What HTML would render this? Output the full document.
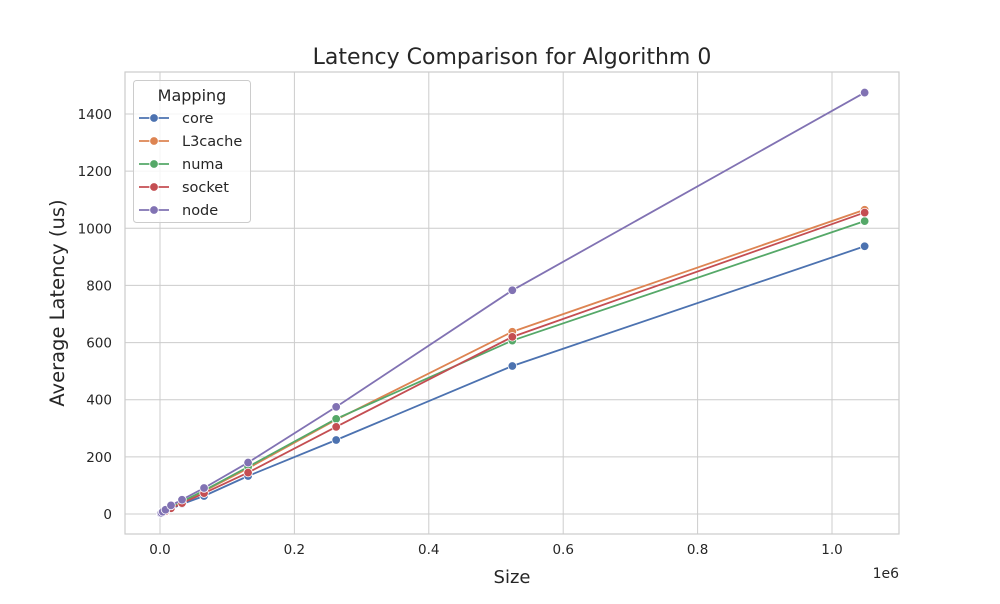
<!DOCTYPE html>
<html><head><meta charset="utf-8"><style>
body{margin:0;background:#fff;font-family:"DejaVu Sans","Liberation Sans",sans-serif}
</style></head><body>
<svg id="chart" width="1000" height="600" xmlns="http://www.w3.org/2000/svg" font-family="DejaVu Sans, Liberation Sans, sans-serif"></svg>
<script>
const sizes=[1024,2048,4096,8192,16384,32768,65536,131072,262144,524288,1048576];
const seriesNames=["core","L3cache","numa","socket","node"];
const coreVals=[2,3,5,9,18,35,63,133,259,518,937];
const l3Vals=[2,3,6,11,22,42,80,160,330,638,1065];
const numaVals=[2,3,6,11,22,43,82,165,333,607,1025];
const socketVals=[2,3,5,10,20,38,73,145,305,620,1055];
const nodeVals=[2,4,8,15,30,50,91,180,375,783,1475];
const xTicks=[0,0.2e6,0.4e6,0.6e6,0.8e6,1.0e6];
const xTickLabels=["0.0","0.2","0.4","0.6","0.8","1.0"];
const yTicks=[0,200,400,600,800,1000,1200,1400];
const colors=["#4c72b0","#dd8452","#55a868","#c44e52","#8172b3"];
const allVals=[coreVals,l3Vals,numaVals,socketVals,nodeVals];
const L=125,R=899,T=72,B=534;
const X=v=>160+v*(832-160)/1e6;
const Y=v=>514-v*(514-114)/1400;
const svg=document.getElementById('chart');
const NS="http://www.w3.org/2000/svg";
function el(t,a,p){const e=document.createElementNS(NS,t);for(const k in a)e.setAttribute(k,a[k]);(p||svg).appendChild(e);return e;}
let r=el('rect',{x:L,y:T,width:R-L,height:B-T,fill:'#fff'});


xTicks.forEach((t,i)=>{
 let g=el('line',{x1:X(t),x2:X(t),y1:T,y2:B,stroke:'#cccccc','stroke-width':1});
 
 
 let tx=el('text',{x:X(t),y:B+20,'text-anchor':'middle','font-size':13.5,fill:'#262626'});
 tx.textContent=xTickLabels[i];
 
 
});
yTicks.forEach(t=>{
 let g=el('line',{x1:L,x2:R,y1:Y(t),y2:Y(t),stroke:'#cccccc','stroke-width':1});
 
 
 let tx=el('text',{x:L-13,y:Y(t)+5,'text-anchor':'end','font-size':13.5,fill:'#262626'});
 tx.textContent=t;
 
 
});
let fr=el('rect',{x:L,y:T,width:R-L,height:B-T,fill:'none',stroke:'#cccccc','stroke-width':1.2});


allVals.forEach((vals,si)=>{
 const g=el('g',{});
 
 
 let p=el('polyline',{points:vals.map((v,i)=>X(sizes[i])+','+Y(v)).join(' '),fill:'none',stroke:colors[si],'stroke-width':1.8},g);
 
 
 vals.forEach((v,i)=>{
  let c=el('circle',{cx:X(sizes[i]),cy:Y(v),r:4.3,fill:colors[si],stroke:'#fff','stroke-width':0.8},g);
  
  
 });
});
let t=el('text',{x:512,y:64,'text-anchor':'middle','font-size':22,fill:'#262626'});t.textContent='Latency Comparison for Algorithm 0';


let xl=el('text',{x:512,y:583,'text-anchor':'middle','font-size':18,fill:'#262626'});xl.textContent='Size';


let yl=el('text',{x:64,y:303,'text-anchor':'middle','font-size':19.5,fill:'#262626',transform:'rotate(-90 64 303)'});yl.textContent='Average Latency (us)';


let off=el('text',{x:899,y:578,'text-anchor':'end','font-size':14,fill:'#262626'});off.textContent='1e6';


const lg=el('g',{});


el('rect',{x:133.5,y:80.5,width:117,height:142,rx:3,fill:'#fff','fill-opacity':0.8,stroke:'#cccccc'},lg);
let lt=el('text',{x:192,y:101,'text-anchor':'middle','font-size':16,fill:'#262626'},lg);lt.textContent='Mapping';


seriesNames.forEach((n,i)=>{
 const y=118+i*23;
 const e=el('g',{},lg);
 
 
 el('line',{x1:139,x2:169,y1:y,y2:y,stroke:colors[i],'stroke-width':1.8},e);
 el('circle',{cx:154,cy:y,r:4.3,fill:colors[i],stroke:'#fff','stroke-width':0.8},e);
 let tx=el('text',{x:182,y:y+5,'font-size':14.5,fill:'#262626'},e);tx.textContent=n;
});
</script>
</body></html>
